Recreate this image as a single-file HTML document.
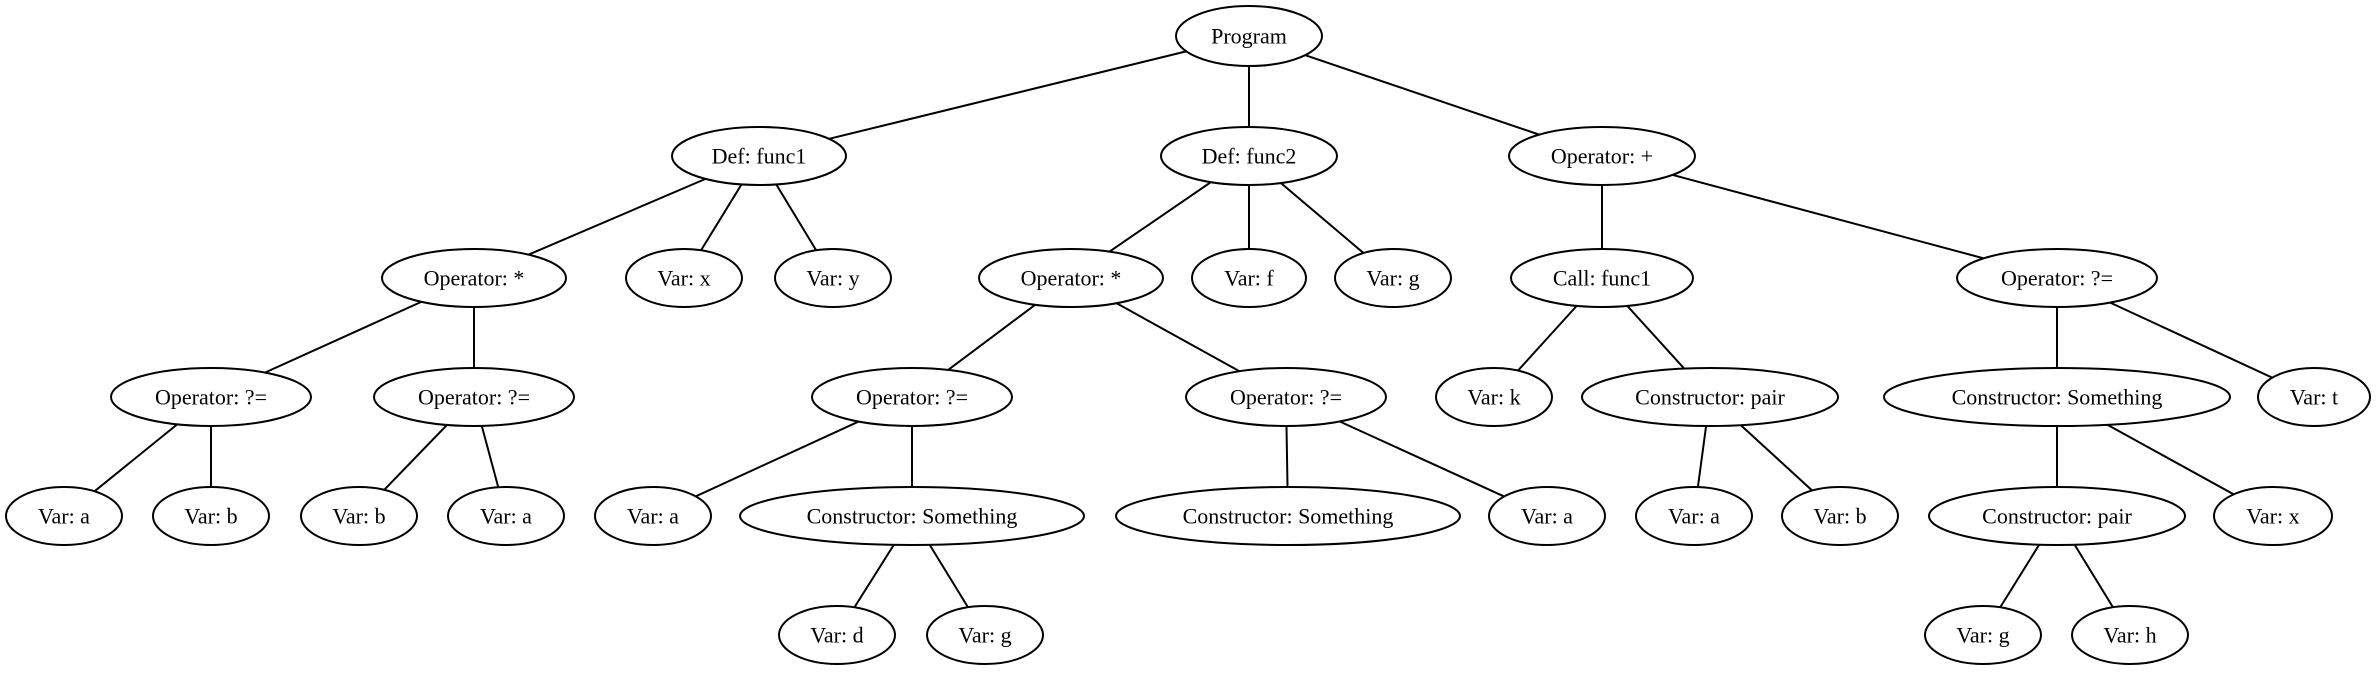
<!DOCTYPE html>
<html><head><meta charset="utf-8"><style>
html,body{margin:0;padding:0;background:#fff;}
svg{display:block;}
text{font-family:"Liberation Serif",serif;font-size:22px;fill:#000;}
</style></head><body>
<svg width="2378" height="673" viewBox="0 0 2378 673" xmlns="http://www.w3.org/2000/svg">
<g stroke="#000" stroke-width="2">
<line x1="1249" y1="36" x2="759" y2="156"/>
<line x1="1249" y1="36" x2="1249" y2="156"/>
<line x1="1249" y1="36" x2="1602" y2="156"/>
<line x1="759" y1="156" x2="474" y2="278"/>
<line x1="759" y1="156" x2="684" y2="278"/>
<line x1="759" y1="156" x2="833" y2="278"/>
<line x1="474" y1="278" x2="211" y2="397"/>
<line x1="474" y1="278" x2="474" y2="397"/>
<line x1="211" y1="397" x2="64" y2="516"/>
<line x1="211" y1="397" x2="211" y2="516"/>
<line x1="474" y1="397" x2="359" y2="516"/>
<line x1="474" y1="397" x2="506" y2="516"/>
<line x1="1249" y1="156" x2="1071" y2="278"/>
<line x1="1249" y1="156" x2="1249" y2="278"/>
<line x1="1249" y1="156" x2="1393" y2="278"/>
<line x1="1071" y1="278" x2="912" y2="397"/>
<line x1="1071" y1="278" x2="1286" y2="397"/>
<line x1="912" y1="397" x2="653" y2="516"/>
<line x1="912" y1="397" x2="912" y2="516"/>
<line x1="912" y1="516" x2="837" y2="635"/>
<line x1="912" y1="516" x2="985" y2="635"/>
<line x1="1286" y1="397" x2="1288" y2="516"/>
<line x1="1286" y1="397" x2="1547" y2="516"/>
<line x1="1602" y1="156" x2="1602" y2="278"/>
<line x1="1602" y1="156" x2="2057" y2="278"/>
<line x1="1602" y1="278" x2="1494" y2="397"/>
<line x1="1602" y1="278" x2="1710" y2="397"/>
<line x1="1710" y1="397" x2="1694" y2="516"/>
<line x1="1710" y1="397" x2="1840" y2="516"/>
<line x1="2057" y1="278" x2="2057" y2="397"/>
<line x1="2057" y1="278" x2="2314" y2="397"/>
<line x1="2057" y1="397" x2="2057" y2="516"/>
<line x1="2057" y1="397" x2="2273" y2="516"/>
<line x1="2057" y1="516" x2="1983" y2="635"/>
<line x1="2057" y1="516" x2="2130" y2="635"/>
</g>
<g fill="#fff" stroke="#000" stroke-width="2">
<ellipse cx="1249" cy="36" rx="73" ry="30"/>
<ellipse cx="759" cy="156" rx="87" ry="29"/>
<ellipse cx="1249" cy="156" rx="88" ry="29"/>
<ellipse cx="1602" cy="156" rx="93" ry="29"/>
<ellipse cx="474" cy="278" rx="92" ry="29"/>
<ellipse cx="684" cy="278" rx="58" ry="29"/>
<ellipse cx="833" cy="278" rx="58" ry="29"/>
<ellipse cx="1071" cy="278" rx="92" ry="29"/>
<ellipse cx="1249" cy="278" rx="57" ry="29"/>
<ellipse cx="1393" cy="278" rx="58" ry="29"/>
<ellipse cx="1602" cy="278" rx="91" ry="29"/>
<ellipse cx="2057" cy="278" rx="100" ry="29"/>
<ellipse cx="211" cy="397" rx="100" ry="29"/>
<ellipse cx="474" cy="397" rx="100" ry="29"/>
<ellipse cx="912" cy="397" rx="100" ry="29"/>
<ellipse cx="1286" cy="397" rx="100" ry="29"/>
<ellipse cx="1494" cy="397" rx="58" ry="29"/>
<ellipse cx="1710" cy="397" rx="128" ry="29"/>
<ellipse cx="2057" cy="397" rx="173" ry="29"/>
<ellipse cx="2314" cy="397" rx="56" ry="29"/>
<ellipse cx="64" cy="516" rx="58" ry="29"/>
<ellipse cx="211" cy="516" rx="58" ry="29"/>
<ellipse cx="359" cy="516" rx="58" ry="29"/>
<ellipse cx="506" cy="516" rx="58" ry="29"/>
<ellipse cx="653" cy="516" rx="58" ry="29"/>
<ellipse cx="912" cy="516" rx="172" ry="29"/>
<ellipse cx="1288" cy="516" rx="172" ry="29"/>
<ellipse cx="1547" cy="516" rx="58" ry="29"/>
<ellipse cx="1694" cy="516" rx="58" ry="29"/>
<ellipse cx="1840" cy="516" rx="58" ry="29"/>
<ellipse cx="2057" cy="516" rx="128" ry="29"/>
<ellipse cx="2273" cy="516" rx="59" ry="29"/>
<ellipse cx="837" cy="635" rx="58" ry="29"/>
<ellipse cx="985" cy="635" rx="58" ry="29"/>
<ellipse cx="1983" cy="635" rx="58" ry="29"/>
<ellipse cx="2130" cy="635" rx="58" ry="29"/>
</g>
<g text-anchor="middle" dominant-baseline="central">
<text x="1249" y="36">Program</text>
<text x="759" y="156">Def: func1</text>
<text x="1249" y="156">Def: func2</text>
<text x="1602" y="156">Operator: +</text>
<text x="474" y="278">Operator: *</text>
<text x="684" y="278">Var: x</text>
<text x="833" y="278">Var: y</text>
<text x="1071" y="278">Operator: *</text>
<text x="1249" y="278">Var: f</text>
<text x="1393" y="278">Var: g</text>
<text x="1602" y="278">Call: func1</text>
<text x="2057" y="278">Operator: ?=</text>
<text x="211" y="397">Operator: ?=</text>
<text x="474" y="397">Operator: ?=</text>
<text x="912" y="397">Operator: ?=</text>
<text x="1286" y="397">Operator: ?=</text>
<text x="1494" y="397">Var: k</text>
<text x="1710" y="397">Constructor: pair</text>
<text x="2057" y="397">Constructor: Something</text>
<text x="2314" y="397">Var: t</text>
<text x="64" y="516">Var: a</text>
<text x="211" y="516">Var: b</text>
<text x="359" y="516">Var: b</text>
<text x="506" y="516">Var: a</text>
<text x="653" y="516">Var: a</text>
<text x="912" y="516">Constructor: Something</text>
<text x="1288" y="516">Constructor: Something</text>
<text x="1547" y="516">Var: a</text>
<text x="1694" y="516">Var: a</text>
<text x="1840" y="516">Var: b</text>
<text x="2057" y="516">Constructor: pair</text>
<text x="2273" y="516">Var: x</text>
<text x="837" y="635">Var: d</text>
<text x="985" y="635">Var: g</text>
<text x="1983" y="635">Var: g</text>
<text x="2130" y="635">Var: h</text>
</g>
</svg>
</body></html>
